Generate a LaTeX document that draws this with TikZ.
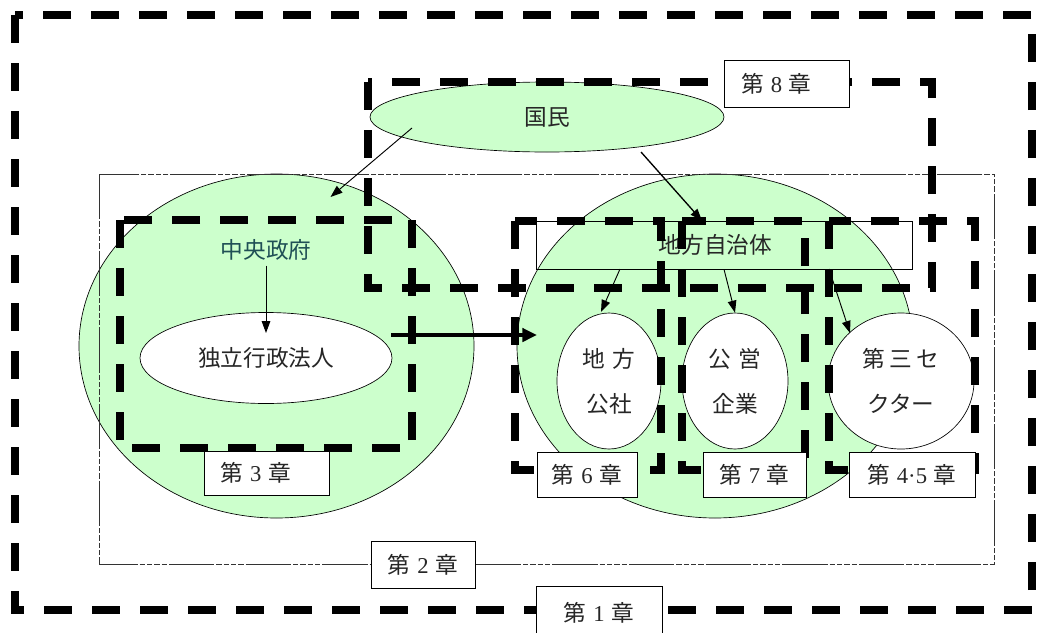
\documentclass[tikz,border=0pt]{standalone}
\usepackage{fontspec}
\setmainfont{Liberation Serif}
\newfontfamily\cjk{Noto Sans CJK JP}
\usetikzlibrary{shapes.geometric,arrows.meta}
\definecolor{paleg}{HTML}{CCFFCC}
\definecolor{ink}{HTML}{262626}
\definecolor{tealink}{HTML}{1F4F55}
\newcommand\chapl[1]{{\cjk 第}\hspace{0.3em}#1\hspace{0.3em}{\cjk 章}}
\begin{document}
\begin{tikzpicture}[x=0.75pt,y=-0.75pt,
  bigdash/.style={line width=5.5pt, dash pattern=on 21pt off 15pt},
  chaptwo/.style={line width=0.6pt, draw=black!80, dash pattern=on 34pt off 1.5pt on 4pt off 1.5pt on 4pt off 1.5pt on 4pt off 1.5pt on 4pt off 1.5pt},
  greenell/.style={ellipse, draw=black, line width=0.5pt, fill=paleg, inner sep=0pt},
  whiteell/.style={ellipse, draw=black, line width=0.5pt, fill=white, inner sep=0pt, align=center, text=ink, font=\cjk\fontsize{17}{33.75}\selectfont},
  txt/.style={text=ink, font=\cjk\fontsize{17}{22}\selectfont, inner sep=0pt},
  chapbox/.style={draw=black, line width=0.6pt, fill=white, text=ink, font=\fontsize{17}{22}\selectfont, inner sep=0pt},
  arr/.style={-{Triangle[length=9pt,width=6.5pt]}, line width=0.7pt},
  thickarr/.style={-{Triangle[length=11pt,width=10pt]}, line width=2.6pt}
]
\useasboundingbox (0,0) rectangle (1038,632);
\fill[white] (0,0) rectangle (1038,632);

% chapter 1 outer frame
\draw[bigdash] (15,15) rectangle (1032,610);

% big ellipses
\node[greenell, minimum width=296.25pt, minimum height=258pt] (chuo) at (276.5,346) {};
\node[greenell, minimum width=297pt, minimum height=258pt] (chiho) at (715,346) {};

% chapter 2 frame
\draw[chaptwo] (99,174) rectangle (994,564);

% people
\node[greenell, minimum width=265.5pt, minimum height=52.5pt, txt] (kokumin) at (547,117) {国民};

% inner nodes
\node[txt, text=tealink] (chuotext) at (266,250) {中央政府};
\node[whiteell, minimum width=189pt, minimum height=68.25pt] (dokuho) at (266,358) {独立行政法人};
\node[draw=black, line width=0.5pt, minimum width=282pt, minimum height=36pt, txt] (chihotext) at (724,245) {地方自治体\hspace*{13pt}};
\node[whiteell, minimum width=78pt, minimum height=102pt] (kosha) at (609,381) {地\hspace{0.3em}方\\公社};
\node[whiteell, minimum width=79.5pt, minimum height=102pt] (kigyo) at (735,381) {公\hspace{0.3em}営\\企業};
\node[whiteell, minimum width=109.5pt, minimum height=102pt] (sector) at (901,381) {第\hspace{0.2em}三\hspace{0.2em}セ\\クター};

% dashed chapter frames
\draw[bigdash] (120,220) rectangle (412,448);
\draw[bigdash] (515,221) rectangle (661,470);
\draw[bigdash] (682,221) rectangle (805,470);
\draw[bigdash] (829,221) rectangle (975,470);
\draw[bigdash] (368,82) rectangle (932,288);

% arrows
\draw[arr] ([shift={(-135,11)}]kokumin.center) -- ([shift={(54,-149)}]chuo.center);
\draw[arr, line width=1pt] ([shift={(94,35)}]kokumin.center) -- ([shift={(-22,0)}]chihotext.north);
\draw[arr] ([shift={(0,5)}]chuotext.south) -- ([shift={(0,-25)}]dokuho.center);
\draw[thickarr] ([shift={(125,-23)}]dokuho.center) -- ([shift={(-178,-11)}]chiho.center);
\draw[arr] ([shift={(-104,24)}]chihotext.center) -- ([shift={(-8,-69)}]kosha.center);
\draw[arr] (chihotext.south) -- (kigyo.north);
\draw[arr] ([shift={(105,24)}]chihotext.center) -- ([shift={(-51,-48)}]sector.center);

% chapter labels
\node[chapbox, minimum width=94.5pt, minimum height=39.75pt] (ch1) at (599,613) {\chapl{1}};
\node[chapbox, minimum width=78pt, minimum height=35.25pt] (ch2) at (423,564.5) {\chapl{2}};
\node[chapbox, minimum width=93.75pt, minimum height=33pt] (ch3) at (266.5,473) {\chapl{3}\hspace*{16pt}};
\node[chapbox, minimum width=75pt, minimum height=33.75pt] (ch6) at (587,474.5) {\chapl{6}};
\node[chapbox, minimum width=77.25pt, minimum height=33.75pt] (ch7) at (754.5,474.5) {\chapl{7}};
\node[chapbox, minimum width=94.5pt, minimum height=33.75pt] (ch45) at (912,474.5) {\chapl{4\textperiodcentered 5}};
\node[chapbox, minimum width=93.75pt, minimum height=35.25pt] (ch8) at (786.5,83.5) {\chapl{8}\hspace*{15pt}};
\end{tikzpicture}
\end{document}
